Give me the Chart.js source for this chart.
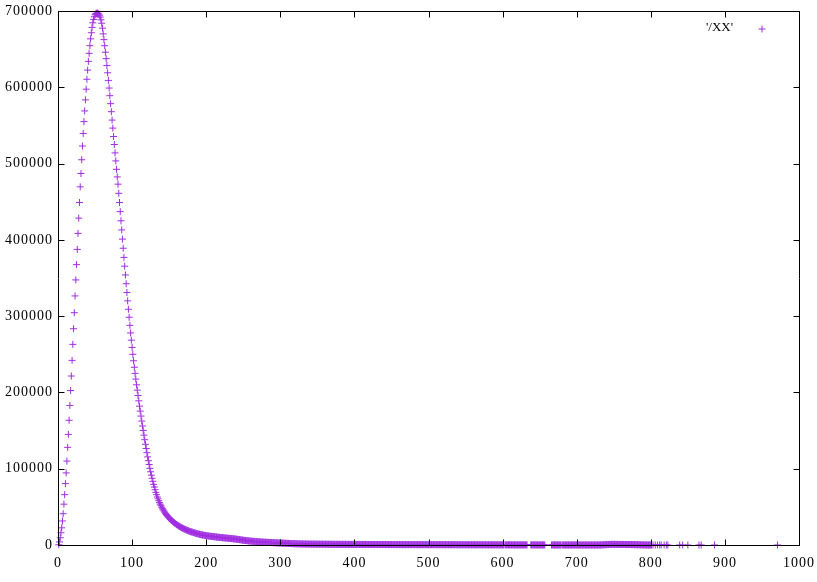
<!DOCTYPE html>
<html>
<head>
<meta charset="utf-8">
<script src="https://cdn.jsdelivr.net/npm/chart.js@4.4.1/dist/chart.umd.min.js"></script>
<style>
  html, body { margin: 0; padding: 0; background: #fff; }
  canvas { display: block; }
</style>
</head>
<body>
<canvas id="plot" width="817" height="582"></canvas>
<script>
// series label and axis ticks
const seriesLabel = "'/XX'";
const xTickValues = [0, 100, 200, 300, 400, 500, 600, 700, 800, 900, 1000];
const yTickValues = [0, 100000, 200000, 300000, 400000, 500000, 600000, 700000];

// counts for x = 1 .. 200
const peakCounts = [
    300, 4000, 9500, 16000, 22500, 31500, 41000, 53500, 66000, 80500,
    94500, 110000, 128000, 145000, 163500, 183000, 202500, 221500, 242000, 263000,
    283500, 304500, 326500, 347500, 367500, 387500, 408500, 428500, 449000, 469500,
    487000, 505000, 523000, 539500, 555000, 569000, 583500, 597500, 610500, 622500,
    634000, 644500, 654500, 663500, 671500, 678500, 684500, 689000, 692500, 695000,
    696500, 697000, 697300, 697000, 696000, 694500, 692000, 688500, 684000, 677500,
    670000, 662500, 654500, 646000, 637500, 628500, 619000, 609000, 599000, 589000,
    578500, 568000, 557000, 546500, 535500, 525000, 514000, 503500, 492500, 482500,
    473000, 461000, 449000, 437000, 425000, 413000, 401000, 389000, 377000, 365500,
    354000, 342500, 331000, 320000, 309000, 298500, 288000, 278000, 268500, 259000,
    250000, 241500, 233000, 225000, 217500, 210000, 203000, 196000, 189000, 182000,
    175500, 169000, 162500, 156000, 150000, 144000, 138000, 132000, 126500, 121000,
    115500, 110500, 105500, 100500, 96000, 91500, 87500, 83500, 79500, 76000,
    72500, 69000, 66000, 63000, 60500, 58000, 55500, 53500, 51500, 49500,
    47500, 46000, 44500, 43000, 41500, 40000, 38800, 37600, 36500, 35400,
    34400, 33400, 32500, 31600, 30700, 29900, 29100, 28300, 27600, 26900,
    26200, 25500, 24900, 24300, 23700, 23100, 22600, 22100, 21600, 21100,
    20600, 20200, 19800, 19400, 19000, 18600, 18200, 17800, 17500, 17200,
    16900, 16600, 16300, 16000, 15700, 15400, 15100, 14800, 14600, 14300,
    14100, 13800, 13600, 13400, 13200, 13000, 12800, 12600, 12400, 12200
];

// counts for x = 201 .. 500
const tailCounts = [
    12100, 11900, 11800, 11700, 11500, 11400, 11300, 11200, 11000, 10900,
    10800, 10700, 10600, 10400, 10300, 10200, 10100, 10000, 9900, 9800,
    9700, 9600, 9500, 9400, 9300, 9200, 9100, 9000, 8900, 8800,
    8700, 8600, 8500, 8400, 8300, 8200, 8100, 8000, 7850, 7700,
    7600, 7450, 7300, 7150, 7000, 6850, 6700, 6550, 6400, 6300,
    6150, 6000, 5900, 5750, 5650, 5500, 5400, 5300, 5200, 5100,
    5000, 4900, 4800, 4750, 4650, 4550, 4450, 4400, 4300, 4250,
    4150, 4100, 4000, 3950, 3900, 3800, 3750, 3700, 3650, 3600,
    3550, 3500, 3450, 3400, 3350, 3300, 3250, 3200, 3150, 3100,
    3050, 3000, 2950, 2900, 2850, 2800, 2750, 2700, 2650, 2600,
    2550, 2500, 2450, 2400, 2350, 2300, 2250, 2200, 2150, 2100,
    2050, 2000, 1950, 1900, 1860, 1820, 1780, 1740, 1700, 1660,
    1620, 1580, 1550, 1520, 1490, 1460, 1430, 1400, 1380, 1360,
    1340, 1320, 1300, 1280, 1260, 1240, 1220, 1200, 1190, 1180,
    1170, 1160, 1150, 1140, 1130, 1120, 1110, 1100, 1090, 1080,
    1070, 1060, 1050, 1040, 1030, 1020, 1010, 1000, 990, 980,
    975, 970, 960, 955, 950, 940, 935, 930, 920, 915,
    910, 900, 895, 890, 880, 875, 870, 865, 860, 855,
    850, 845, 840, 835, 830, 825, 820, 815, 810, 805,
    800, 795, 790, 785, 780, 775, 770, 765, 760, 755,
    750, 745, 740, 735, 730, 725, 720, 715, 710, 705,
    700, 700, 695, 690, 685, 680, 675, 670, 665, 660,
    660, 655, 650, 645, 640, 640, 635, 630, 625, 620,
    620, 615, 610, 610, 605, 600, 600, 595, 590, 590,
    585, 580, 580, 575, 570, 570, 565, 560, 560, 555,
    555, 550, 550, 545, 540, 540, 535, 535, 530, 530,
    525, 525, 520, 520, 515, 515, 510, 510, 505, 505,
    500, 500, 495, 495, 490, 490, 490, 485, 485, 480,
    480, 480, 475, 475, 470, 470, 470, 465, 465, 465,
    460, 460, 460, 455, 455, 455, 450, 450, 450, 445
];

// counts for x = 501 .. 800 (null = no sample at that x)
const farCounts = [
    460, 450, 450, 450, 450, 440, 440, 440, 440, 430, 430, 430, 430, 420, 420, 420, 420, 410, 410, 410,
    410, 400, 400, 400, 400, 390, 390, 390, 390, 380, 380, 380, 380, 370, 370, 370, 370, 360, 360, 360,
    360, 350, 350, 350, 350, 340, 340, 340, 340, 330, 330, 330, 330, 320, 320, 320, 320, 310, 310, 310,
    310, 300, 300, 300, 300, 290, 290, 290, 290, 280, 280, 280, 280, 270, 270, 270, 270, 260, 260, 260,
    260, 250, 250, 250, 250, 240, 240, 240, 240, 230, 230, 230, 230, 220, 220, 220, 220, 210, 210, 210,
    210, 200, null, 200, 200, 190, 190, 190, 190, 180, 180, 180, 180, 170, 170, 170, 170, 160, 160, 160,
    160, 150, 150, 150, 150, 140, 140, 140, 140, 130, 130, 130, 130, null, null, null, null, 120, 120, 120,
    120, 110, 110, 110, 110, 110, 100, 100, 100, 100, 100, 90, 90, 90, 90, 90, 90, null, null, null,
    null, null, null, null, null, 80, 80, 80, 80, 80, 80, 80, 80, 70, 70, 70, 70, 70, 70, null,
    70, 70, 70, 60, 60, 60, 60, 60, 60, 60, 60, 60, 60, 50, 50, 50, 50, 50, 50, 50,
    50, 50, 50, 50, 50, 50, 50, 50, 50, 50, 40, 40, 40, 40, 40, 40, 40, 40, 40, 40,
    40, 40, 40, 40, 40, 40, 40, 40, 40, 40, 60, 100, 150, 200, 250, 300, 350, 400, 450, 500,
    550, 600, 650, 700, 750, 750, 800, 800, 800, 800, 800, 800, 800, 750, 750, 750, 750, 750, 700, 700,
    700, 700, 700, 650, 650, 650, 650, 600, 600, 600, 600, 550, 550, 550, 500, 500, 500, 450, 450, 450,
    400, 400, 350, 350, 300, 300, 250, 250, 200, 200, 150, 150, 100, 100, 80, 80, 70, 60, 60, 60
];

// scattered samples past 800
const sparseX = [801, 803, 806, 809, 812, 814, 818, 821, 823, 839, 843, 850, 865, 868, 886, 971];
const sparseCounts = [60, 50, 50, 40, 40, 30, 30, 20, 20, 10, 10, 10, 10, 10, 5, 5];

const purple = '#a02ee0';

const points = [];
peakCounts.concat(tailCounts, farCounts).forEach((v, i) => {
    if (v !== null) points.push({ x: i + 1, y: v });
});
sparseX.forEach((x, i) => points.push({ x: x, y: sparseCounts[i] }));

// gnuplot style frame, inward ticks on all sides, key at top right
const gnuFrame = {
    id: 'gnuFrame',
    beforeDraw(chart) {
        chart.ctx.letterSpacing = '1px';
    },
    afterDatasetsDraw(chart) {
        const { ctx, chartArea: a, scales } = chart;
        const L = a.left + 0.5, R = a.right + 0.5, T = a.top + 0.5, B = a.bottom + 0.5;
        const tick = 6;
        ctx.save();
        ctx.letterSpacing = '0px';
        ctx.strokeStyle = '#000';
        ctx.lineWidth = 1;
        ctx.beginPath();
        scales.x.ticks.forEach(t => {
            const px = Math.round(scales.x.getPixelForValue(t.value)) + 0.5;
            ctx.moveTo(px, B); ctx.lineTo(px, B - tick);
            ctx.moveTo(px, T); ctx.lineTo(px, T + tick);
        });
        scales.y.ticks.forEach(t => {
            const py = Math.round(scales.y.getPixelForValue(t.value)) + 0.5;
            ctx.moveTo(L, py); ctx.lineTo(L + tick, py);
            ctx.moveTo(R, py); ctx.lineTo(R - tick, py);
        });
        ctx.rect(L, T, R - L, B - T);
        ctx.stroke();

        // key
        ctx.font = '13px "Liberation Serif", "Times New Roman", serif';
        ctx.fillStyle = '#000';
        ctx.textAlign = 'right';
        ctx.textBaseline = 'middle';
        ctx.fillText(seriesLabel, 733, 28);
        ctx.strokeStyle = purple;
        ctx.beginPath();
        ctx.moveTo(758.5, 29); ctx.lineTo(765.5, 29);
        ctx.moveTo(762, 25.5); ctx.lineTo(762, 32.5);
        ctx.stroke();
        ctx.restore();
    }
};

const tickFont = { family: '"Liberation Serif", "Times New Roman", serif', size: 14 };

new Chart(document.getElementById('plot'), {
    type: 'scatter',
    data: {
        datasets: [{
            label: seriesLabel,
            data: points,
            pointStyle: 'cross',
            pointRadius: 3.5,
            pointHoverRadius: 3.5,
            borderWidth: 1,
            borderColor: purple,
            backgroundColor: purple,
            clip: false
        }]
    },
    options: {
        responsive: false,
        animation: false,
        devicePixelRatio: 1,
        events: [],
        layout: { padding: { top: 11, right: 18, left: 0, bottom: 0 } },
        plugins: {
            legend: { display: false },
            tooltip: { enabled: false }
        },
        scales: {
            x: {
                type: 'linear',
                min: 0,
                max: 1000,
                afterBuildTicks: s => { s.ticks = xTickValues.map(v => ({ value: v })); },
                afterFit: s => { s.height = 37; s.paddingLeft = 0; s.paddingRight = 0; },
                grid: { display: false, drawTicks: false },
                border: { display: false },
                ticks: { color: '#000', font: tickFont, padding: 10, maxRotation: 0, callback: v => String(v) }
            },
            y: {
                type: 'linear',
                min: 0,
                max: 700000,
                afterBuildTicks: s => { s.ticks = yTickValues.map(v => ({ value: v })); },
                afterFit: s => { s.width = 58; s.paddingTop = 0; s.paddingBottom = 0; },
                grid: { display: false, drawTicks: false },
                border: { display: false },
                ticks: { color: '#000', font: tickFont, padding: 5, callback: v => String(v) }
            }
        }
    },
    plugins: [gnuFrame]
});
</script>
</body>
</html>
